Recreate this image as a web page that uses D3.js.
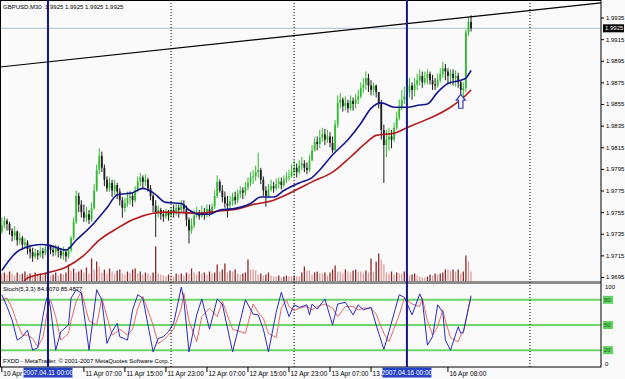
<!DOCTYPE html>
<html>
<head>
<meta charset="utf-8">
<script src="https://cdn.jsdelivr.net/npm/d3@7"></script>
<style>
body { margin: 0; background: #fafafa; }
svg { display: block; font-family: "Liberation Sans", Arial, sans-serif; }
</style>
</head>
<body>
<script>
//Data////////////////////////////////////////////////////////////////////////////////

// GBPUSD M30 bars, one per 30 minutes starting 10 Apr 15:00 (open = previous close)
const firstOpen = 1.9737;
const closes = [
  1.9743,1.9747,1.9744,1.9738,1.9733,1.9737,1.9729,1.9731,1.9725,1.9727,
  1.9721,1.9718,1.9714,1.9717,1.9715,1.9719,1.9717,1.9721,1.9724,1.9720,
  1.9718,1.9722,1.9719,1.9715,1.9718,1.9714,1.9720,1.9731,1.9746,1.9770,
  1.9762,1.9755,1.9750,1.9753,1.9748,1.9759,1.9775,1.9794,1.9807,1.9796,
  1.9785,1.9777,1.9782,1.9775,1.9780,1.9774,1.9766,1.9759,1.9763,1.9768,
  1.9770,1.9766,1.9775,1.9783,1.9787,1.9783,1.9785,1.9777,1.9770,1.9761,
  1.9754,1.9757,1.9753,1.9751,1.9755,1.9752,1.9757,1.9755,1.9759,1.9757,
  1.9762,1.9758,1.9748,1.9738,1.9743,1.9752,1.9755,1.9751,1.9755,1.9753,
  1.9758,1.9755,1.9760,1.9770,1.9783,1.9775,1.9769,1.9763,1.9761,1.9765,
  1.9769,1.9766,1.9772,1.9775,1.9773,1.9778,1.9782,1.9787,1.9788,1.9792,
  1.9794,1.9785,1.9775,1.9770,1.9776,1.9779,1.9777,1.9781,1.9783,1.9780,
  1.9785,1.9787,1.9788,1.9792,1.9796,1.9792,1.9798,1.9800,1.9796,1.9794,
  1.9803,1.9812,1.9820,1.9818,1.9824,1.9827,1.9822,1.9825,1.9819,1.9812,
  1.9836,1.9856,1.9859,1.9853,1.9856,1.9851,1.9858,1.9855,1.9859,1.9862,
  1.9870,1.9873,1.9879,1.9872,1.9868,1.9872,1.9866,1.9855,1.9831,1.9817,
  1.9822,1.9825,1.9822,1.9833,1.9842,1.9851,1.9859,1.9862,1.9866,1.9872,
  1.9868,1.9873,1.9877,1.9881,1.9875,1.9879,1.9883,1.9877,1.9873,1.9872,
  1.9877,1.9883,1.9888,1.9885,1.9881,1.9883,1.9879,1.9881,1.9875,1.9868,
  1.9870,1.9921,1.9931,1.9925
];
const highs = [
  1.9750,1.9751,1.9749,1.9746,1.9740,1.9742,1.9738,1.9736,1.9733,1.9731,
  1.9729,1.9725,1.9722,1.9721,1.9720,1.9723,1.9722,1.9725,1.9727,1.9725,
  1.9724,1.9725,1.9724,1.9722,1.9723,1.9721,1.9723,1.9733,1.9750,1.9775,
  1.9773,1.9766,1.9762,1.9760,1.9757,1.9764,1.9781,1.9799,1.9814,1.9811,
  1.9799,1.9788,1.9787,1.9785,1.9785,1.9782,1.9777,1.9769,1.9768,1.9774,
  1.9775,1.9773,1.9779,1.9788,1.9791,1.9789,1.9790,1.9787,1.9780,1.9772,
  1.9766,1.9761,1.9759,1.9757,1.9758,1.9757,1.9760,1.9762,1.9763,1.9762,
  1.9766,1.9766,1.9761,1.9750,1.9749,1.9757,1.9760,1.9757,1.9761,1.9759,
  1.9762,1.9762,1.9763,1.9775,1.9789,1.9785,1.9780,1.9774,1.9770,1.9770,
  1.9773,1.9774,1.9776,1.9779,1.9778,1.9783,1.9787,1.9792,1.9794,1.9798,
  1.9810,1.9796,1.9788,1.9779,1.9781,1.9785,1.9783,1.9786,1.9787,1.9787,
  1.9789,1.9792,1.9794,1.9799,1.9803,1.9800,1.9803,1.9806,1.9803,1.9801,
  1.9808,1.9817,1.9824,1.9825,1.9831,1.9833,1.9832,1.9831,1.9829,1.9825,
  1.9840,1.9863,1.9865,1.9861,1.9862,1.9859,1.9863,1.9861,1.9864,1.9868,
  1.9875,1.9879,1.9885,1.9883,1.9877,1.9875,1.9873,1.9866,1.9859,1.9836,
  1.9831,1.9833,1.9831,1.9838,1.9848,1.9859,1.9868,1.9871,1.9877,1.9879,
  1.9875,1.9879,1.9883,1.9887,1.9885,1.9885,1.9887,1.9885,1.9882,1.9879,
  1.9883,1.9888,1.9894,1.9892,1.9888,1.9887,1.9887,1.9886,1.9884,1.9877,
  1.9875,1.9924,1.9935,1.9937
];
const lows = [
  1.9735,1.9740,1.9738,1.9734,1.9728,1.9729,1.9724,1.9725,1.9720,1.9722,
  1.9716,1.9712,1.9709,1.9712,1.9711,1.9713,1.9712,1.9715,1.9718,1.9716,
  1.9714,1.9715,1.9713,1.9712,1.9711,1.9709,1.9712,1.9718,1.9729,1.9744,
  1.9755,1.9750,1.9746,1.9746,1.9744,1.9746,1.9757,1.9774,1.9790,1.9792,
  1.9779,1.9774,1.9774,1.9769,1.9771,1.9767,1.9761,1.9750,1.9755,1.9760,
  1.9762,1.9760,1.9764,1.9773,1.9779,1.9777,1.9779,1.9774,1.9766,1.9755,
  1.9732,1.9750,1.9748,1.9746,1.9749,1.9747,1.9750,1.9750,1.9752,1.9750,
  1.9755,1.9754,1.9742,1.9726,1.9735,1.9740,1.9750,1.9748,1.9750,1.9748,
  1.9750,1.9751,1.9753,1.9758,1.9768,1.9773,1.9764,1.9759,1.9750,1.9757,
  1.9761,1.9762,1.9763,1.9768,1.9767,1.9770,1.9775,1.9779,1.9781,1.9784,
  1.9787,1.9781,1.9770,1.9760,1.9768,1.9774,1.9773,1.9775,1.9777,1.9776,
  1.9778,1.9782,1.9784,1.9787,1.9788,1.9787,1.9790,1.9794,1.9792,1.9790,
  1.9792,1.9802,1.9811,1.9812,1.9814,1.9820,1.9817,1.9819,1.9815,1.9810,
  1.9812,1.9833,1.9851,1.9848,1.9849,1.9847,1.9849,1.9849,1.9851,1.9855,
  1.9860,1.9865,1.9868,1.9866,1.9863,1.9863,1.9861,1.9851,1.9822,1.9782,
  1.9806,1.9812,1.9814,1.9820,1.9831,1.9840,1.9849,1.9855,1.9859,1.9861,
  1.9859,1.9862,1.9868,1.9872,1.9870,1.9873,1.9873,1.9873,1.9868,1.9868,
  1.9870,1.9875,1.9879,1.9877,1.9874,1.9873,1.9872,1.9871,1.9870,1.9861,
  1.9861,1.9866,1.9918,1.9922
];
const volumes = [
  80,90,70,100,80,60,90,70,80,100,
  70,80,60,90,70,80,60,90,80,60,
  70,90,60,80,70,90,170,110,130,90,
  100,120,90,140,80,230,120,200,150,90,
  120,80,130,100,80,110,120,80,70,100,
  90,120,130,80,100,70,90,80,60,90,
  350,80,70,60,50,70,60,50,80,70,
  80,60,90,80,130,90,70,100,80,90,
  70,100,80,90,170,100,120,180,90,110,
  100,120,80,70,80,90,220,120,120,110,
  70,80,60,70,90,60,50,50,60,40,
  50,60,50,50,60,50,50,90,150,110,
  110,70,90,100,80,80,90,60,90,120,
  160,100,100,80,120,100,90,110,120,100,
  100,80,110,90,230,100,200,280,220,170,
  90,80,100,70,90,80,80,100,80,60,
  70,80,60,50,40,40,50,70,60,80,
  70,80,90,120,120,110,120,100,120,80,
  100,260,200,100
];

// moving averages (bar index, price)
const maBlueBars = [0,7,16,19,25,29,36,41,45,51,55,59,64,70,73,77,81,85,90,97,101,106,110,116,121,124,129,135,140,144,148,153,158,163,166,170,174,179,181,183];
const maBlueValues = [1.9701,1.9720,1.9725,1.9724,1.9720,1.9729,1.9745,1.9759,1.9771,1.9773,1.9777,1.9773,1.9764,1.9763,1.9757,1.9753,1.9753,1.9757,1.9758,1.9763,1.9769,1.9769,1.9775,1.9782,1.9787,1.9794,1.9808,1.9822,1.9837,1.9851,1.9856,1.9852,1.9852,1.9854,1.9855,1.9866,1.9874,1.9877,1.9879,1.9886];
const maRedBars = [8,10,18,25,32,38,45,51,59,64,77,85,92,98,106,111,116,121,129,136,142,146,153,158,163,168,175,180,183];
const maRedValues = [1.9689,1.9694,1.9699,1.9704,1.9715,1.9729,1.9740,1.9748,1.9754,1.9755,1.9754,1.9756,1.9758,1.9762,1.9766,1.9771,1.9777,1.9783,1.9792,1.9806,1.9819,1.9826,1.9828,1.9833,1.9838,1.9843,1.9852,1.9861,1.9868];

// Stochastic(5,3,3)
const stochBars = [0,2,4,6,8,10,12,14,16,17,18,19,21,23,26,27,29,31,34,37,39,41,43,45,46,49,51,53,55,59,61,63,65,67,70,71,73,76,78,81,84,86,90,95,98,100,102,104,107,109,111,112,114,116,119,120,121,123,126,129,131,134,137,139,141,144,146,149,151,155,157,160,163,164,166,168,170,172,173,175,178,179,180,183];
const stochMain = [86,72,56,32,36,44,20,23,60,76,86,70,20,42,50,82,92,88,20,92,80,28,42,52,36,32,68,86,82,18,34,36,42,52,95,80,18,62,81,45,81,75,18,80,63,62,45,18,65,89,69,60,74,71,74,62,75,69,81,50,75,77,62,74,68,71,50,21,42,86,83,62,87,80,26,36,74,65,32,20,48,40,42,84];
const stochSignal = [80,82,70,52,38,38,34,24,35,52,72,80,60,32,40,55,78,90,55,50,82,60,38,42,45,38,45,70,84,50,28,32,38,45,70,88,55,30,60,70,60,78,45,40,75,65,58,40,35,70,80,72,67,70,72,70,68,72,75,70,60,72,72,68,70,70,63,40,30,62,82,75,72,82,55,38,48,68,55,35,30,38,40,85];
const stochLevels = [80, 50, 20];

// axes
const priceTicks = [1.9935,1.9915,1.9895,1.9875,1.9855,1.9835,1.9815,1.9795,1.9775,1.9755,1.9735,1.9715,1.9695];
const bidPrice = 1.9925;
const timeLabelBars = [0,32,48,64,80,96,112,128,144,174];
const timeLabelTexts = ["10 Apr 15:00","11 Apr 07:00","11 Apr 15:00","11 Apr 23:00","12 Apr 07:00","12 Apr 15:00","12 Apr 23:00","13 Apr 07:00","13 Apr 15:00","16 Apr 08:00"];

// objects on the chart
const vlineBars = [18, 158];
const vlineTexts = ["2007.04.11 00:00", "2007.04.16 00:00"];
const daySeparatorBars = [66, 114, 206];
const trendBars = [0, 183];
const trendPrices = [1.98894, 1.99357];
const arrowBar = 179, arrowPrice = 1.9864;

//Layout//////////////////////////////////////////////////////////////////////////////

var W = 625, H = 379;
var plotRight = 601, mainBottom = 281, stochTop = 284, axisY = 367;

var svg = d3.select("body").append("svg")
    .attr("width", W)
    .attr("height", H);

svg.append("rect").attr("width", W).attr("height", H).attr("fill", "#fafafa");

var x = d3.scaleLinear().domain([-0.72, 233.7]).range([0, plotRight]);
var y = d3.scaleLinear().domain([1.9695, 1.9935]).range([277, 17.5]);
var yVol = d3.scaleLinear().domain([0, 400]).range([281.5, 241.5]);
var yStoch = d3.scaleLinear().domain([0, 100]).range([367, 283]);

var defs = svg.append("defs");
defs.append("clipPath").attr("id", "clipMain")
    .append("rect").attr("x", 0).attr("y", 0).attr("width", plotRight).attr("height", mainBottom);
defs.append("clipPath").attr("id", "clipStoch")
    .append("rect").attr("x", 0).attr("y", stochTop).attr("width", plotRight).attr("height", axisY - stochTop);

var bars = closes.map(function(c, i) {
  return { i: i, o: i ? closes[i - 1] : firstOpen, h: highs[i], l: lows[i], c: c, v: volumes[i] };
});

var main = svg.append("g").attr("clip-path", "url(#clipMain)");

// bid line
main.append("line")
    .attr("x1", 0).attr("x2", plotRight)
    .attr("y1", y(bidPrice)).attr("y2", y(bidPrice))
    .attr("stroke", "#a9bccb").attr("stroke-width", 1);

// volumes
main.selectAll(".vol")
    .data(bars)
    .enter().append("line")
    .attr("class", "vol")
    .attr("x1", d => x(d.i)).attr("x2", d => x(d.i))
    .attr("y1", yVol(0)).attr("y2", d => yVol(d.v))
    .attr("stroke", (d, i) => (i && d.v > volumes[i - 1]) ? "#8a2a2a" : "#e39a9a")
    .attr("stroke-width", 1.3);

// candles
var candle = main.selectAll(".candle")
    .data(bars)
    .enter().append("g")
    .attr("class", "candle");

candle.append("line")
    .attr("x1", d => x(d.i)).attr("x2", d => x(d.i))
    .attr("y1", d => y(d.h)).attr("y2", d => y(d.l))
    .attr("stroke", d => d.c >= d.o ? "#34b934" : "#1e1e1e")
    .attr("stroke-width", 1);

candle.append("rect")
    .attr("x", d => x(d.i) - 0.9)
    .attr("width", 1.8)
    .attr("y", d => y(Math.max(d.o, d.c)))
    .attr("height", d => Math.max(1, Math.abs(y(d.o) - y(d.c))))
    .attr("fill", d => d.c >= d.o ? "#34b934" : "#1e1e1e");

// moving averages
var maLine = d3.line().x(d => x(d[0])).y(d => y(d[1])).curve(d3.curveMonotoneX);
main.append("path")
    .datum(maRedBars.map((b, i) => [b, maRedValues[i]]))
    .attr("d", maLine)
    .attr("fill", "none").attr("stroke", "#b3191c").attr("stroke-width", 1.6);
main.append("path")
    .datum(maBlueBars.map((b, i) => [b, maBlueValues[i]]))
    .attr("d", maLine)
    .attr("fill", "none").attr("stroke", "#14148f").attr("stroke-width", 1.6);

// trend line, extended across the window
var slope = (trendPrices[1] - trendPrices[0]) / (trendBars[1] - trendBars[0]);
var xd = x.domain();
main.append("line")
    .attr("x1", x(xd[0])).attr("y1", y(trendPrices[0] + slope * (xd[0] - trendBars[0])))
    .attr("x2", x(xd[1])).attr("y2", y(trendPrices[0] + slope * (xd[1] - trendBars[0])))
    .attr("stroke", "#000").attr("stroke-width", 1.2);

// up arrow
main.append("path")
    .attr("transform", "translate(" + x(arrowBar) + "," + y(arrowPrice) + ")")
    .attr("d", "M0,0 L4.5,6 L2.2,6 L2.2,14 L-2.2,14 L-2.2,6 L-4.5,6 Z")
    .attr("fill", "#fafafa").attr("stroke", "#3a3ab8").attr("stroke-width", 1.2);

// stochastic window
var stoch = svg.append("g").attr("clip-path", "url(#clipStoch)");
stochLevels.forEach(function(lv) {
  stoch.append("line")
      .attr("x1", 0).attr("x2", plotRight)
      .attr("y1", yStoch(lv)).attr("y2", yStoch(lv))
      .attr("stroke", "#6cd66c").attr("stroke-width", 2);
});
var stLine = d3.line().x(d => x(d[0])).y(d => yStoch(d[1]));
stoch.append("path")
    .datum(stochBars.map((b, i) => [b, stochSignal[i]]))
    .attr("d", stLine)
    .attr("fill", "none").attr("stroke", "#e26b6b").attr("stroke-width", 1);
stoch.append("path")
    .datum(stochBars.map((b, i) => [b, stochMain[i]]))
    .attr("d", stLine)
    .attr("fill", "none").attr("stroke", "#2b2bc4").attr("stroke-width", 1);

// window separator
svg.append("rect")
    .attr("x", 0).attr("y", mainBottom).attr("width", plotRight).attr("height", stochTop - mainBottom)
    .attr("fill", "#8c8c8c");

// day separators
daySeparatorBars.forEach(function(b) {
  svg.append("line")
      .attr("x1", x(b)).attr("x2", x(b))
      .attr("y1", 0).attr("y2", axisY)
      .attr("stroke", "#000").attr("stroke-width", 1)
      .attr("stroke-dasharray", "1,2");
});

// frame and axes
svg.append("rect")
    .attr("x", 0.5).attr("y", 0.5).attr("width", plotRight - 0.5).attr("height", axisY - 0.5)
    .attr("fill", "none").attr("stroke", "#000").attr("stroke-width", 1);

var yAxis = svg.append("g")
    .attr("transform", "translate(" + plotRight + ",0)")
    .call(d3.axisRight(y).tickValues(priceTicks).tickSize(3).tickPadding(2).tickFormat(d3.format(".4f")));
yAxis.select(".domain").remove();
yAxis.selectAll("text").attr("font-size", 6).attr("fill", "#000").attr("font-family", "Liberation Sans, Arial, sans-serif");

// bid label
svg.append("rect")
    .attr("x", plotRight + 2).attr("y", y(bidPrice) - 4)
    .attr("width", 21).attr("height", 8).attr("fill", "#000");
svg.append("text")
    .attr("x", plotRight + 4).attr("y", y(bidPrice)).attr("dy", "0.35em")
    .attr("font-size", 6).attr("fill", "#fff")
    .text(d3.format(".4f")(bidPrice));

// stochastic scale
svg.append("text").attr("x", plotRight + 4).attr("y", yStoch(100) + 4).attr("dy", "0.35em")
    .attr("font-size", 6).text("100");
svg.append("text").attr("x", plotRight + 4).attr("y", yStoch(0) - 3).attr("dy", "0.35em")
    .attr("font-size", 6).text("0");
stochLevels.forEach(function(lv) {
  svg.append("rect")
      .attr("x", plotRight + 2).attr("y", yStoch(lv) - 4)
      .attr("width", 10).attr("height", 8).attr("fill", "#5fd35f");
  svg.append("text")
      .attr("x", plotRight + 3).attr("y", yStoch(lv)).attr("dy", "0.35em")
      .attr("font-size", 6).attr("fill", "#1d5d1d").text(lv);
});

// time axis
timeLabelBars.forEach(function(b, i) {
  svg.append("line")
      .attr("x1", x(b)).attr("x2", x(b))
      .attr("y1", axisY).attr("y2", axisY + 5)
      .attr("stroke", "#000");
  svg.append("text")
      .attr("x", x(b) + 1.5).attr("y", axisY + 8.5)
      .attr("font-size", 6.5).text(timeLabelTexts[i]);
});

// vertical lines with their time boxes
vlineBars.forEach(function(b, i) {
  svg.append("line")
      .attr("x1", x(b)).attr("x2", x(b))
      .attr("y1", 0).attr("y2", axisY)
      .attr("stroke", "#16168c").attr("stroke-width", 2);
  svg.append("rect")
      .attr("x", x(b) - 24.5).attr("y", axisY + 0.5)
      .attr("width", 49).attr("height", 10).attr("fill", "#2543c2");
  svg.append("text")
      .attr("x", x(b)).attr("y", axisY + 8).attr("text-anchor", "middle")
      .attr("font-size", 6.5).attr("fill", "#fff").text(vlineTexts[i]);
});

// window titles
svg.append("text").attr("x", 3).attr("y", 9).attr("font-size", 6).text("GBPUSD,M30");
svg.append("text").attr("x", 45).attr("y", 9).attr("font-size", 6)
    .text([bidPrice, bidPrice, bidPrice, bidPrice].map(d3.format(".4f")).join(" "));
svg.append("text").attr("x", 3).attr("y", 291).attr("font-size", 6)
    .text("Stoch(5,3,3) 84.0070 85.4877");
svg.append("text").attr("x", 3).attr("y", 363).attr("font-size", 6)
    .text("FXDD - MetaTrader, \u00a9 2001-2007 MetaQuotes Software Corp.");

// blue line sits over the title
svg.append("line")
    .attr("x1", x(vlineBars[0])).attr("x2", x(vlineBars[0]))
    .attr("y1", 0).attr("y2", 12)
    .attr("stroke", "#16168c").attr("stroke-width", 2);
</script>
</body>
</html>
